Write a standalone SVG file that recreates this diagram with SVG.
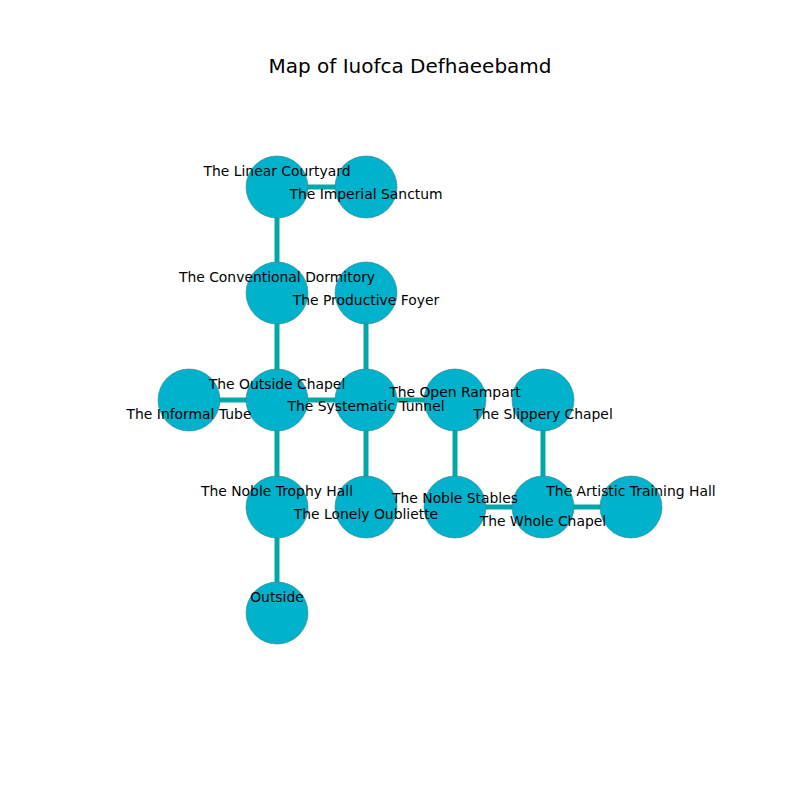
<svg xmlns="http://www.w3.org/2000/svg" width="800" height="800" viewBox="0 0 800 800">
<style>
.n{fill:#00b2cb;stroke:#3d7f8a;stroke-width:0.6}
.e{stroke:#00a8a8;stroke-width:5;fill:none}
.t{font-family:"DejaVu Sans",sans-serif;font-size:13.9px;fill:#000;text-anchor:middle}
.title{font-family:"DejaVu Sans",sans-serif;font-size:20px;fill:#000;text-anchor:middle}
</style>
<rect width="800" height="800" fill="#fff"/>
<text class="title" x="410" y="73">Map of Iuofca Defhaeebamd</text>
<g id="connectors">
<line class="e" x1="277" y1="187" x2="366" y2="187"/>
<line class="e" x1="277" y1="187" x2="277" y2="293"/>
<line class="e" x1="277" y1="293" x2="277" y2="400"/>
<line class="e" x1="366" y1="293" x2="366" y2="400"/>
<line class="e" x1="189" y1="400" x2="277" y2="400"/>
<line class="e" x1="277" y1="400" x2="366" y2="400"/>
<line class="e" x1="366" y1="400" x2="455" y2="400"/>
<line class="e" x1="277" y1="400" x2="277" y2="507"/>
<line class="e" x1="366" y1="400" x2="366" y2="507"/>
<line class="e" x1="455" y1="400" x2="455" y2="507"/>
<line class="e" x1="277" y1="507" x2="277" y2="613"/>
<line class="e" x1="455" y1="507" x2="543" y2="507"/>
<line class="e" x1="543" y1="400" x2="543" y2="507"/>
<line class="e" x1="543" y1="507" x2="631" y2="507"/>
</g>
<g id="n-linear-courtyard"><circle class="n" cx="277" cy="187" r="31"/></g>
<g id="n-imperial-sanctum"><circle class="n" cx="366" cy="187" r="31"/></g>
<g id="n-conventional-dormitory"><circle class="n" cx="277" cy="293" r="31"/></g>
<g id="n-productive-foyer"><circle class="n" cx="366" cy="293" r="31"/></g>
<g id="n-informal-tube"><circle class="n" cx="189" cy="400" r="31"/></g>
<g id="n-outside-chapel"><circle class="n" cx="277" cy="400" r="31"/></g>
<g id="n-systematic-tunnel"><circle class="n" cx="366" cy="400" r="31"/></g>
<g id="n-open-rampart"><circle class="n" cx="455" cy="400" r="31"/></g>
<g id="n-slippery-chapel"><circle class="n" cx="543" cy="400" r="31"/></g>
<g id="n-noble-trophy-hall"><circle class="n" cx="277" cy="507" r="31"/></g>
<g id="n-lonely-oubliette"><circle class="n" cx="366" cy="507" r="31"/></g>
<g id="n-noble-stables"><circle class="n" cx="455" cy="507" r="31"/></g>
<g id="n-whole-chapel"><circle class="n" cx="543" cy="507" r="31"/></g>
<g id="n-artistic-training-hall"><circle class="n" cx="631" cy="507" r="31"/></g>
<g id="n-outside"><circle class="n" cx="277" cy="613" r="31"/></g>
<g id="labels">
<text class="t" x="277" y="176">The Linear Courtyard</text>
<text class="t" x="366" y="198.5">The Imperial Sanctum</text>
<text class="t" x="277" y="282">The Conventional Dormitory</text>
<text class="t" x="366" y="305">The Productive Foyer</text>
<text class="t" x="277" y="389">The Outside Chapel</text>
<text class="t" x="189" y="419">The Informal Tube</text>
<text class="t" x="366" y="411">The Systematic Tunnel</text>
<text class="t" x="455" y="397">The Open Rampart</text>
<text class="t" x="543" y="419">The Slippery Chapel</text>
<text class="t" x="277" y="496">The Noble Trophy Hall</text>
<text class="t" x="366" y="518.5">The Lonely Oubliette</text>
<text class="t" x="455" y="503">The Noble Stables</text>
<text class="t" x="543" y="526">The Whole Chapel</text>
<text class="t" x="631" y="496">The Artistic Training Hall</text>
<text class="t" x="277" y="601.5">Outside</text>
</g>
</svg>
